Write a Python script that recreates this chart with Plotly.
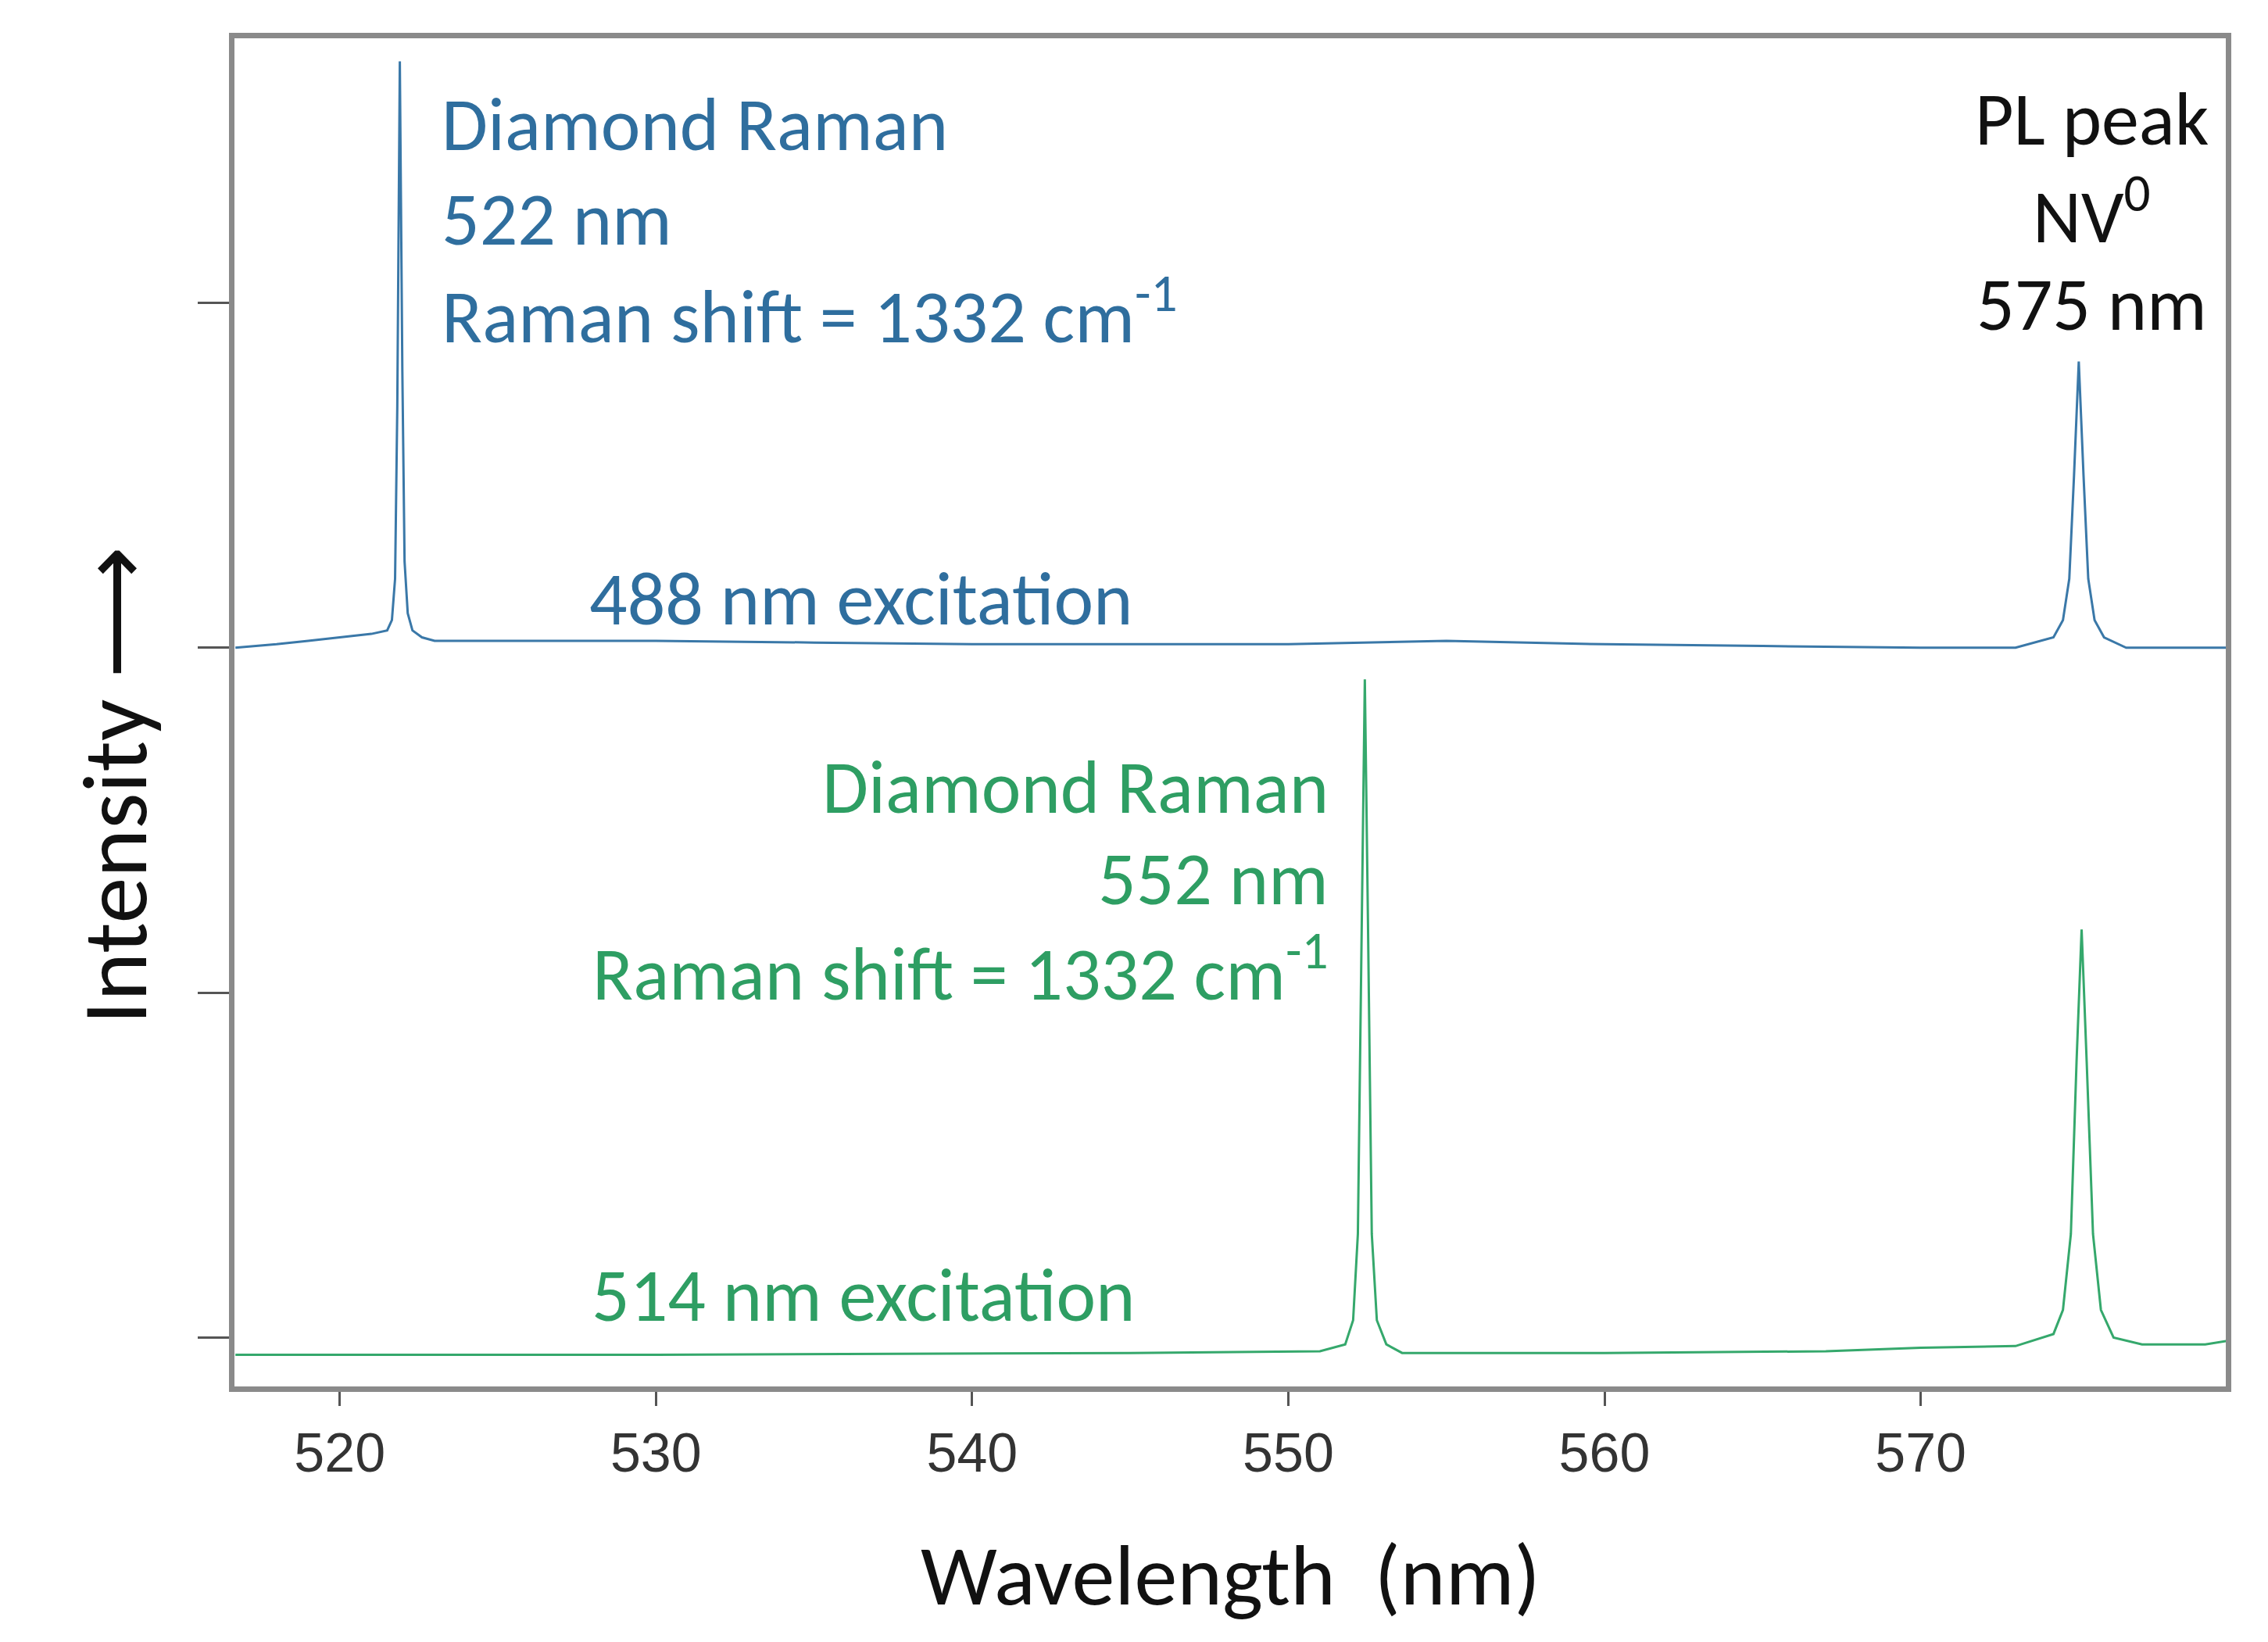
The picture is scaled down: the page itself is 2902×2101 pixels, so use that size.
import plotly.graph_objects as go

# spectrum (wavelength nm, offset intensity)
wl_488 = [516.7, 518, 519, 520, 521, 521.5, 521.65, 521.75, 521.82, 521.9, 521.98, 522.05, 522.15,
          522.3, 522.6, 523, 525, 530, 535, 540, 545, 550, 555, 560, 565, 570, 573, 574.2, 574.5,
          574.7, 574.85, 575.0, 575.15, 575.3, 575.5, 575.8, 576.5, 578, 579.7]
int_488 = [2.0, 2.01, 2.02, 2.03, 2.04, 2.05, 2.08, 2.2, 2.7, 3.7, 2.8, 2.25, 2.1,
           2.05, 2.03, 2.02, 2.02, 2.02, 2.015, 2.01, 2.01, 2.01, 2.02, 2.01, 2.005, 2.0, 2.0, 2.03, 2.08,
           2.2, 2.5, 2.83, 2.5, 2.2, 2.08, 2.03, 2.0, 2.0, 2.0]

wl_514 = [516.7, 530, 545, 551, 551.8, 552.05, 552.2, 552.32, 552.42, 552.52, 552.64, 552.8,
          553.1, 553.6, 556, 560, 567, 570, 573, 574.2, 574.5, 574.75, 574.93, 575.09, 575.25,
          575.45, 575.7, 576.1, 577, 579, 579.7]
int_514 = [-0.05, -0.05, -0.045, -0.04, -0.02, 0.05, 0.3, 1.2, 1.908, 1.2, 0.3, 0.05,
           -0.02, -0.045, -0.045, -0.045, -0.04, -0.03, -0.025, 0.01, 0.08, 0.3, 0.8, 1.183, 0.8,
           0.3, 0.08, 0.0, -0.02, -0.02, -0.01]

x_ticks = [520, 530, 540, 550, 560, 570]
y_ticks = [0, 1, 2, 3]

blue = "#2f6e9e"
green = "#2e9e63"
txt = "Calibri, Carlito, Lato, sans-serif"

fig = go.Figure()
fig.add_trace(go.Scatter(x=wl_488, y=int_488, mode="lines", line=dict(color="#3a78a8", width=3)))
fig.add_trace(go.Scatter(x=wl_514, y=int_514, mode="lines", line=dict(color="#35a86c", width=3)))

notes = [
    (523.18, 3.517, "Diamond Raman", "left", blue),
    (523.18, 3.242, "522 nm", "left", blue),
    (523.18, 2.975, "Raman shift = 1332 cm<sup>-1</sup>", "left", blue),
    (527.83, 2.142, "488 nm excitation", "left", blue),
    (575.41, 3.533, "PL peak", "center", "#111111"),
    (575.41, 3.263, "NV<sup>0</sup>", "center", "#111111"),
    (575.41, 2.996, "575 nm", "center", "#111111"),
    (551.32, 1.596, "Diamond Raman", "right", green),
    (551.32, 1.329, "552 nm", "right", green),
    (551.32, 1.067, "Raman shift = 1332 cm<sup>-1</sup>", "right", green),
    (527.92, 0.121, "514 nm excitation", "left", green),
]
for x, y, t, anc, c in notes:
    fig.add_annotation(x=x, y=y, text=t, xanchor=anc, yanchor="middle", showarrow=False,
                       font=dict(family=txt, size=96, color=c))

fig.add_annotation(xref="paper", yref="paper", x=0.5, y=-0.14, text="Wavelength  (nm)",
                   showarrow=False, xanchor="center", yanchor="middle",
                   font=dict(family=txt, size=110, color="#111111"))
fig.add_annotation(xref="paper", y=1.6, x=-0.06, text="Intensity ⟶", textangle=-90,
                   showarrow=False, xanchor="center", yanchor="middle",
                   font=dict(family=txt, size=118, color="#111111"))

fig.update_layout(
    width=2902, height=2101, showlegend=False,
    paper_bgcolor="white", plot_bgcolor="white",
    margin=dict(l=292, r=62, t=41, b=335),
    xaxis=dict(range=[516.67, 579.65], tickvals=x_ticks, ticks="outside", ticklen=18, tickwidth=3,
               tickcolor="#555", showgrid=False, zeroline=False, showline=True, mirror=True,
               linecolor="#8a8a8a", linewidth=7,
               tickfont=dict(family="Liberation Sans, Arial", size=70, color="#333")),
    yaxis=dict(range=[-0.142, 3.767], tickvals=y_ticks, ticktext=["", "", "", ""], ticks="outside",
               ticklen=40, tickwidth=3, tickcolor="#555", showgrid=False, zeroline=False,
               showline=True, mirror=True, linecolor="#8a8a8a", linewidth=7),
)

fig.write_html("out.html")
